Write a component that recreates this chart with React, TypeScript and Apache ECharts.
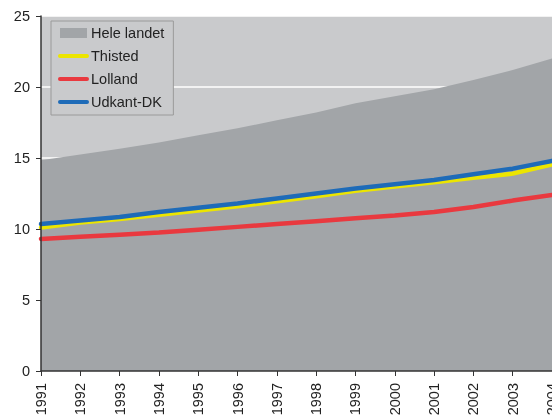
import React, { useEffect, useRef } from "react";
import * as echarts from "echarts";

const years = ["1991","1992","1993","1994","1995","1996","1997","1998","1999","2000","2001","2002","2003","2004"];
const heleLandet = [14.85, 15.25, 15.65, 16.1, 16.6, 17.1, 17.65, 18.2, 18.85, 19.35, 19.85, 20.5, 21.2, 22.0];
const thisted = [10.1, 10.45, 10.7, 11.0, 11.3, 11.6, 11.95, 12.3, 12.7, 13.0, 13.3, 13.6, 13.9, 14.55];
const lolland = [9.3, 9.45, 9.6, 9.75, 9.95, 10.15, 10.35, 10.55, 10.75, 10.95, 11.2, 11.55, 12.0, 12.4];
const udkant = [10.35, 10.6, 10.85, 11.2, 11.5, 11.8, 12.15, 12.5, 12.85, 13.15, 13.45, 13.85, 14.25, 14.8];
const yTicks = [0, 5, 10, 15, 20, 25];

const lineIcon = "path://M2,0 L29,0 A2,2 0 0 1 29,4 L2,4 A2,2 0 0 1 2,0 Z";
const rectIcon = "path://M0,0 L27,0 L27,10 L0,10 Z";

export default function App() {
  const ref = useRef<HTMLDivElement>(null);
  useEffect(() => {
    if (!ref.current) return;
    const chart = echarts.init(ref.current, null, { renderer: "svg" });
    const font = "'Liberation Sans', Arial, sans-serif";
    const lineSeries = (name: string, data: number[], color: string) => ({
      name,
      type: "line",
      data,
      symbol: "none",
      showSymbol: false,
      smooth: false,
      lineStyle: { color, width: 4.5, cap: "round" },
      itemStyle: { color },
      z: 3,
    });
    const yBase = {
      type: "value",
      min: yTicks[0],
      max: yTicks[yTicks.length - 1],
      interval: 5,
    };
    chart.setOption({
      animation: false,
      textStyle: { fontFamily: font },
      grid: {
        left: 41,
        top: 16,
        right: 48,
        bottom: 45,
        outerBoundsMode: "none",
        containLabel: false,
        show: true,
        backgroundColor: "#c9cacc",
        borderWidth: 0,
      },
      legend: {
        left: 51,
        top: 21,
        orient: "vertical",
        padding: [4, 9, 5, 7],
        itemGap: 7,
        itemWidth: 31,
        itemHeight: 10,
        borderColor: "#9a9a9a",
        borderWidth: 1,
        backgroundColor: "#c9cacc",
        textStyle: { fontFamily: font, fontSize: 14.5, color: "#222", padding: [0, 0, 0, -3], lineHeight: 16 },
        data: [
          { name: "Hele landet", icon: rectIcon },
          { name: "Thisted", icon: lineIcon },
          { name: "Lolland", icon: lineIcon },
          { name: "Udkant-DK", icon: lineIcon },
        ],
      },
      xAxis: {
        type: "category",
        data: years,
        boundaryGap: false,
        axisLine: { show: true, lineStyle: { color: "#333", width: 1.5 } },
        axisTick: { show: true, alignWithLabel: true, length: 5, lineStyle: { color: "#333" } },
        axisLabel: { rotate: 90, fontSize: 14.5, color: "#222", margin: 12, fontFamily: font, interval: 0 },
        splitLine: { show: false },
        z: 5,
      },
      yAxis: [
        {
          ...yBase,
          axisLine: { show: false },
          axisTick: { show: false },
          axisLabel: { show: false },
          splitLine: { show: true, lineStyle: { color: "#ffffff", width: 1.5 } },
          z: 0,
        },
        {
          ...yBase,
          position: "left",
          axisLine: { show: true, onZero: false, lineStyle: { color: "#333", width: 1.5 } },
          axisTick: { show: true, length: 5, lineStyle: { color: "#333" } },
          axisLabel: { fontSize: 14.5, color: "#222", margin: 11, fontFamily: font },
          splitLine: { show: false },
          z: 5,
        },
      ],
      series: [
        {
          name: "Hele landet",
          type: "line",
          data: heleLandet,
          symbol: "none",
          showSymbol: false,
          lineStyle: { width: 0, color: "#a2a5a8" },
          itemStyle: { color: "#a2a5a8" },
          areaStyle: { color: "#a2a5a8", opacity: 1 },
          z: 2,
        },
        lineSeries("Thisted", thisted, "#ece500"),
        lineSeries("Lolland", lolland, "#e9393f"),
        lineSeries("Udkant-DK", udkant, "#1e6bb8"),
      ],
    });
    return () => chart.dispose();
  }, []);
  return (
    <div style={{ position: "fixed", left: 0, top: 0, width: 552, height: 416, overflow: "hidden" }}>
      <div ref={ref} style={{ width: 600, height: 416 }} />
    </div>
  );
}
